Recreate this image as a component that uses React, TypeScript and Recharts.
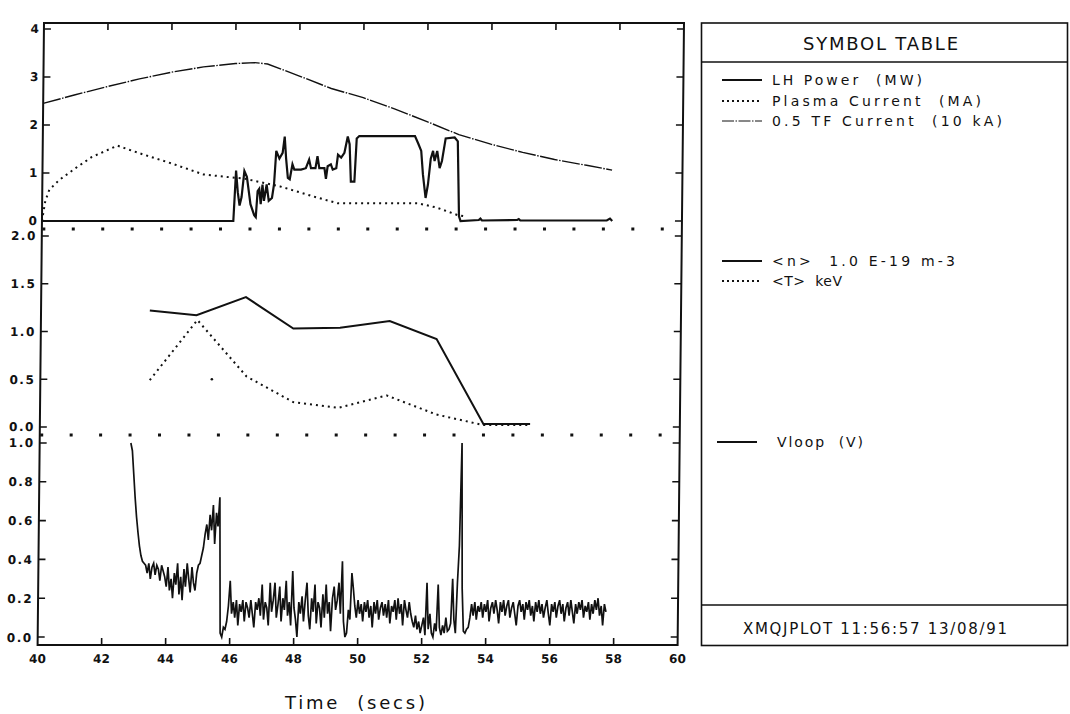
import { LineChart, Line, XAxis, YAxis, ReferenceLine, ReferenceDot } from 'recharts'

// shared time base (s)
const timeDomain: [number, number] = [40, 60]
const timeTicks = [40, 42, 44, 46, 48, 50, 52, 54, 56, 58, 60]

const powerTicks = [0, 1, 2, 3, 4]
const profileTicks = [0, 0.5, 1.0, 1.5, 2.0]
const vloopTicks = [0, 0.2, 0.4, 0.6, 0.8, 1.0]

// visible value range of each panel
const powerDomain: [number, number] = [-0.167, 4.125]
const profileDomain: [number, number] = [-0.084, 2.073]
const vloopDomain: [number, number] = [-0.041, 1.041]

// [time, value] pairs
const lhPower = [
  [40, 0], [45.98, 0], [46.05, 1.05], [46.11, 0.6], [46.17, 0.32], [46.23, 0.5], [46.31, 1.04],
  [46.39, 0.92], [46.51, 0.35], [46.63, 0.12], [46.68, 0.08], [46.73, 0.62], [46.78, 0.67],
  [46.83, 0.35], [46.88, 0.76], [46.93, 0.42], [47.01, 0.76], [47.08, 0.42], [47.18, 0.48],
  [47.24, 0.76], [47.3, 1.46], [47.4, 1.3], [47.5, 1.42], [47.56, 1.76], [47.61, 1.3],
  [47.67, 0.9], [47.73, 0.87], [47.81, 1.18], [47.87, 1.07], [48.08, 1.07], [48.23, 1.1],
  [48.33, 1.28], [48.39, 1.1], [48.53, 1.1], [48.59, 1.35], [48.65, 1.1], [48.81, 1.1],
  [48.86, 0.88], [48.91, 1.14], [49.01, 1.18], [49.07, 1.07], [49.18, 1.1], [49.23, 1.38],
  [49.33, 1.32], [49.43, 1.42], [49.53, 1.76], [49.59, 1.6], [49.64, 0.82], [49.75, 0.82],
  [49.81, 1.72], [49.89, 1.77], [51.63, 1.77], [51.73, 1.62], [51.83, 1.46], [51.89, 0.97],
  [51.98, 0.48], [52.05, 0.76], [52.13, 1.3], [52.2, 1.46], [52.25, 1.25], [52.33, 1.46],
  [52.41, 1.1], [52.48, 1.25], [52.59, 1.72], [52.87, 1.74], [52.97, 1.66], [53.03, 0.1],
  [53.08, 0], [53.65, 0.02], [53.7, 0.05], [53.75, 0.01], [54.85, 0.02], [54.9, 0.04],
  [54.95, 0.01], [57.65, 0.01], [57.75, 0.05], [57.82, 0],
]

const plasmaCurrent = [
  [40, 0], [40.1, 0.42], [40.22, 0.65], [40.52, 0.85], [41.03, 1.1], [41.53, 1.33], [42.33, 1.57],
  [43.03, 1.41], [44.03, 1.2], [45.03, 0.97], [45.73, 0.92], [46.33, 0.88], [47.43, 0.72],
  [48.53, 0.5], [49.23, 0.37], [51.73, 0.37], [52.33, 0.28], [53, 0.12], [53.2, 0.1],
]

const tfCurrent = [
  [40, 2.45], [41, 2.63], [42, 2.8], [43, 2.96], [44, 3.1], [45, 3.21], [46, 3.28], [46.6, 3.3],
  [47, 3.27], [48, 3.02], [49, 2.76], [50, 2.57], [51, 2.33], [52, 2.07], [53, 1.8], [54, 1.6],
  [55, 1.43], [56, 1.28], [57, 1.16], [57.8, 1.06],
]

const density = [
  [43.4, 1.22], [44.86, 1.17], [46.4, 1.36], [47.89, 1.03], [49.35, 1.04], [50.9, 1.11],
  [52.37, 0.92], [53.86, 0.03], [55.32, 0.03],
]

const temperature = [
  [43.42, 0.49], [44.89, 1.12], [46.44, 0.53], [47.91, 0.26], [49.32, 0.2], [50.83, 0.33],
  [52.39, 0.13], [53.86, 0.02], [55.32, 0.02],
]

const strayTemperature = [45.36, 0.5]

// loop voltage, sampled every 50 ms
const vloopStart = 42.85
const vloopStep = 0.05
const vloop = [
  1.0, 0.96, 0.84, 0.72, 0.62, 0.54, 0.47, 0.42, 0.39, 0.38, 0.37, 0.33, 0.38, 0.3, 0.36, 0.38, 0.32, 0.37, 0.35, 0.29,
  0.37, 0.34, 0.31, 0.26, 0.36, 0.24, 0.3, 0.2, 0.33, 0.27, 0.38, 0.22, 0.31, 0.19, 0.35, 0.26, 0.38, 0.3, 0.23, 0.36,
  0.28, 0.24, 0.33, 0.37, 0.38, 0.42, 0.46, 0.53, 0.58, 0.5, 0.63, 0.55, 0.68, 0.48, 0.64, 0.57, 0.72, 0.02, 0.0, 0.05,
  0.04, 0.08, 0.16, 0.29, 0.12, 0.18, 0.1, 0.19, 0.06, 0.17, 0.13, 0.19, 0.08, 0.18, 0.15, 0.1, 0.19, 0.12, 0.05, 0.18,
  0.14, 0.2, 0.11, 0.27, 0.09, 0.18, 0.15, 0.06, 0.28, 0.13, 0.19, 0.28, 0.1, 0.17, 0.26, 0.08, 0.2, 0.14, 0.29, 0.11,
  0.18, 0.06, 0.34, 0.15, 0.09, 0.0, 0.18, 0.12, 0.21, 0.08, 0.19, 0.28, 0.11, 0.04, 0.2, 0.13, 0.27, 0.07, 0.18, 0.15,
  0.05, 0.22, 0.1, 0.27, 0.12, 0.18, 0.03, 0.2, 0.26, 0.14, 0.19, 0.28, 0.12, 0.39, 0.08, 0.0, 0.02, 0.14, 0.09, 0.33,
  0.25, 0.16, 0.1, 0.19, 0.12, 0.17, 0.08, 0.18, 0.13, 0.19, 0.1, 0.16, 0.05, 0.18, 0.12, 0.19, 0.09, 0.15, 0.18, 0.11,
  0.17, 0.1, 0.19, 0.07, 0.16, 0.13, 0.19, 0.09, 0.2, 0.12, 0.17, 0.06, 0.19, 0.14, 0.1, 0.18, 0.12, 0.08, 0.05, 0.11,
  0.04, 0.08, 0.02, 0.06, 0.1, 0.01, 0.28, 0.04, 0.12, 0.02, 0.0, 0.07, 0.03, 0.27, 0.05, 0.01, 0.06, 0.02, 0.1, 0.03,
  0.04, 0.07, 0.3, 0.09, 0.02, 0.28, 0.47, 1.0, 0.25, 0.03, 0.02, 0.04, 0.05, 0.1, 0.17, 0.11, 0.18, 0.09, 0.16, 0.13,
  0.18, 0.1, 0.17, 0.13, 0.19, 0.08, 0.15, 0.18, 0.12, 0.19, 0.14, 0.07, 0.18, 0.13, 0.19, 0.11, 0.16, 0.19, 0.1, 0.15,
  0.18, 0.12, 0.06, 0.16, 0.19, 0.13, 0.17, 0.09, 0.18, 0.14, 0.19, 0.11, 0.16, 0.08, 0.18, 0.13, 0.19, 0.12, 0.17, 0.1,
  0.15, 0.19, 0.12, 0.06, 0.17, 0.13, 0.18, 0.1, 0.16, 0.19, 0.12, 0.17, 0.08, 0.15, 0.18, 0.11, 0.19, 0.13, 0.07, 0.17,
  0.12, 0.18, 0.14, 0.19, 0.1, 0.16, 0.13, 0.18, 0.09, 0.17, 0.12, 0.19, 0.14, 0.2, 0.11, 0.16, 0.06, 0.17, 0.13,
]

const INK = '#111'
const FONT = '"DejaVu Sans", sans-serif'
const CHART_W = 700
const PLOT_L = 44
const PLOT_R = 684
const TICK_LEN = 7

const toPoints = (pairs: number[][]) => pairs.map(([t, v]) => ({ t, v }))
const vloopPoints = vloop.map((v, i) => ({ t: vloopStart + i * vloopStep, v }))

// value tick: inward marks on both frame sides, label outside on the left
function ValueTick(props: any) {
  const { x, y, payload, digits } = props
  return (
    <g>
      <line x1={PLOT_L} x2={PLOT_L + TICK_LEN} y1={y} y2={y} stroke={INK} strokeWidth={1.6} />
      <line x1={PLOT_R - TICK_LEN} x2={PLOT_R} y1={y} y2={y} stroke={INK} strokeWidth={1.6} />
      <text x={x} y={y + 4.5} textAnchor="end" fontFamily={FONT} fontSize={12} fontWeight="bold"
        letterSpacing={digits ? 1.5 : 0} fill={INK}>
        {payload.value.toFixed(digits)}
      </text>
    </g>
  )
}

const isEdge = (v: number) => v === timeDomain[0] || v === timeDomain[1]

function TopTimeTick({ x, y, payload }: any) {
  if (isEdge(payload.value)) return <g />
  return <line x1={x} x2={x} y1={y} y2={y + TICK_LEN} stroke={INK} strokeWidth={1.6} />
}

function BottomTimeTick({ x, y, payload }: any) {
  return (
    <g>
      {!isEdge(payload.value) && (
        <line x1={x} x2={x} y1={y} y2={y - TICK_LEN} stroke={INK} strokeWidth={1.6} />
      )}
      <text x={x} y={y + 18} textAnchor="middle" fontFamily={FONT} fontSize={12} fontWeight="bold" fill={INK}>
        {payload.value}
      </text>
    </g>
  )
}

const separator = {
  stroke: INK,
  strokeWidth: 3,
  strokeDasharray: '3 26.45',
  strokeDashoffset: 29,
}

const solid = { stroke: INK, strokeWidth: 2, dot: false, isAnimationActive: false, type: 'linear' as const }
const dotted = { ...solid, strokeDasharray: '2 4' }

function yAxisProps(domain: [number, number], ticks: number[], digits: number) {
  return {
    type: 'number' as const,
    domain,
    ticks,
    width: 40,
    interval: 0,
    tickSize: 0,
    tickMargin: 5,
    axisLine: false,
    tickLine: false,
    allowDataOverflow: true,
    tick: (p: any) => <ValueTick {...p} digits={digits} />,
  }
}

const xBase = {
  type: 'number' as const,
  dataKey: 't',
  domain: timeDomain,
  ticks: timeTicks,
  interval: 0,
  allowDataOverflow: true,
  axisLine: false,
  tickLine: false,
  tickSize: 0,
  tickMargin: 0,
}

function PlotPanels() {
  return (
    <div
      style={{
        position: 'absolute', left: 0, top: 0, width: CHART_W, height: 714,
        transform: 'skewX(-0.59deg)', transformOrigin: '0 23px',
      }}
    >
      <div style={{ position: 'absolute', left: 0, top: 0 }}>
        <LineChart width={CHART_W} height={240} margin={{ top: 22, right: 16, bottom: 11, left: 4 }}>
          <XAxis {...xBase} orientation="top" height={1} tick={<TopTimeTick />} />
          <YAxis {...yAxisProps(powerDomain, powerTicks, 0)} />
          <ReferenceLine y={powerDomain[0]} {...separator} />
          <Line data={toPoints(tfCurrent)} dataKey="v" name="0.5 TF Current (10 kA)" {...solid}
            strokeWidth={1.4} strokeDasharray="18 1.5 1.5 1.5" />
          <Line data={toPoints(plasmaCurrent)} dataKey="v" name="Plasma Current (MA)" {...dotted} />
          <Line data={toPoints(lhPower)} dataKey="v" name="LH Power (MW)" {...solid} strokeWidth={2.2} />
        </LineChart>
      </div>

      <div style={{ position: 'absolute', left: 0, top: 219 }}>
        <LineChart width={CHART_W} height={227} margin={{ top: 10, right: 16, bottom: 11, left: 4 }}>
          <XAxis {...xBase} hide />
          <YAxis {...yAxisProps(profileDomain, profileTicks, 1)} />
          <ReferenceLine y={profileDomain[0]} {...separator} />
          <Line data={toPoints(temperature)} dataKey="v" name="<T> keV" {...dotted} />
          <Line data={toPoints(density)} dataKey="v" name="<n> 1.0 E-19 m-3" {...solid} />
          <ReferenceDot x={strayTemperature[0]} y={strayTemperature[1]} r={1.3} fill={INK} stroke="none" />
        </LineChart>
      </div>

      <div style={{ position: 'absolute', left: 0, top: 425 }}>
        <LineChart width={CHART_W} height={289} margin={{ top: 10, right: 16, bottom: 39, left: 4 }}>
          <XAxis {...xBase} height={30} tick={<BottomTimeTick />} />
          <YAxis {...yAxisProps(vloopDomain, vloopTicks, 1)} />
          <Line data={vloopPoints} dataKey="v" name="Vloop (V)" {...solid} strokeWidth={1.7} />
        </LineChart>
      </div>

      <div
        style={{
          position: 'absolute', left: 43, top: 22, width: 642, height: 624,
          border: `2px solid ${INK}`, boxSizing: 'border-box', pointerEvents: 'none',
        }}
      />
    </div>
  )
}

function SymbolTable() {
  const text = { fontFamily: FONT, fontSize: 14, fill: INK, style: { whiteSpace: 'pre' as const } }
  return (
    <svg width={1070} height={714} style={{ position: 'absolute', left: 0, top: 0, pointerEvents: 'none' }}>
      <g stroke={INK} strokeWidth={1.6} fill="none">
        <rect x={701.5} y={23} width={366} height={622.5} />
        <line x1={701.5} x2={1067.5} y1={62} y2={62} />
        <line x1={701.5} x2={1067.5} y1={605} y2={605} />
      </g>
      <text x={880.5} y={50} textAnchor="middle" fontFamily={FONT} fontSize={18} fill={INK}
        textLength={155} lengthAdjust="spacing">SYMBOL TABLE</text>

      <g stroke={INK} strokeWidth={1.8}>
        <line x1={722} x2={762} y1={80} y2={80} />
        <line x1={722} x2={762} y1={101} y2={101} strokeDasharray="2 3" />
        <line x1={722} x2={762} y1={121} y2={121} strokeWidth={1} strokeDasharray="12 1.5 1.5 1.5" />
        <line x1={722} x2={762} y1={261} y2={261} />
        <line x1={722} x2={762} y1={281} y2={281} strokeDasharray="2 3" />
        <line x1={717} x2={757} y1={442} y2={442} />
      </g>
      <text x={772} y={85} {...text} textLength={150} lengthAdjust="spacing">{'LH Power  (MW)'}</text>
      <text x={772} y={106} {...text} textLength={209} lengthAdjust="spacing">{'Plasma Current  (MA)'}</text>
      <text x={772} y={126} {...text} textLength={230} lengthAdjust="spacing">{'0.5 TF Current  (10 kA)'}</text>
      <text x={772} y={266} {...text} textLength={183} lengthAdjust="spacing">{'<n>  1.0 E-19 m-3'}</text>
      <text x={772} y={286} {...text} textLength={70} lengthAdjust="spacing">{'<T>  keV'}</text>
      <text x={777} y={447} {...text} textLength={86} lengthAdjust="spacing">{'Vloop  (V)'}</text>

      <text x={875} y={634} textAnchor="middle" fontFamily={FONT} fontSize={15} fill={INK}
        textLength={264} lengthAdjust="spacing">XMQJPLOT 11:56:57 13/08/91</text>

      <text x={285} y={709} fontFamily={FONT} fontSize={18} fill={INK}
        textLength={140} lengthAdjust="spacing" style={{ whiteSpace: 'pre' }}>{'Time  (secs)'}</text>
    </svg>
  )
}

export default function App() {
  return (
    <div
      style={{
        position: 'absolute', left: 0, top: 0, width: 1070, height: 714,
        background: '#fff', overflow: 'hidden',
      }}
    >
      <PlotPanels />
      <SymbolTable />
    </div>
  )
}
